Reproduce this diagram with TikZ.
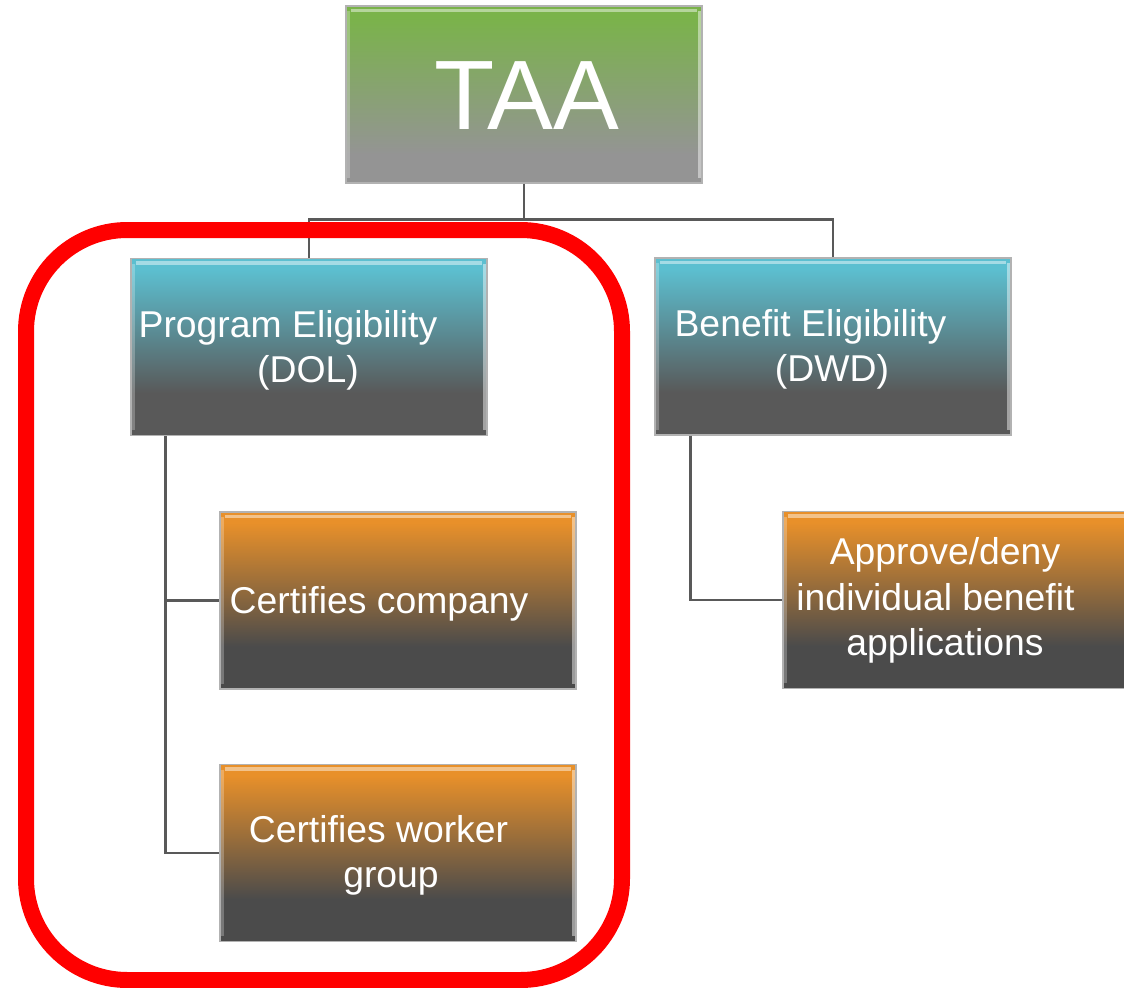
\documentclass[tikz,border=0pt]{standalone}
\usepackage{fontspec}
\setmainfont{Liberation Sans}
\usetikzlibrary{calc}
\definecolor{gtop}{HTML}{7AB34A}
\definecolor{gbot}{HTML}{949494}
\definecolor{btop}{HTML}{5CBFD0}
\definecolor{bbot}{HTML}{595959}
\definecolor{otop}{HTML}{E8902A}
\definecolor{obot}{HTML}{4B4B4B}
\pgfdeclareverticalshading{gsh}{100bp}{color(0bp)=(gbot); color(33bp)=(gbot); color(72bp)=(gtop); color(100bp)=(gtop)}
\pgfdeclareverticalshading{bsh}{100bp}{color(0bp)=(bbot); color(37bp)=(bbot); color(72bp)=(btop); color(100bp)=(btop)}
\pgfdeclareverticalshading{osh}{100bp}{color(0bp)=(obot); color(37bp)=(obot); color(72bp)=(otop); color(100bp)=(otop)}
\begin{document}
\begin{tikzpicture}[x=0.75pt,y=-0.75pt,
  box/.style={rectangle, minimum width=267pt, minimum height=132.75pt, inner sep=0pt, draw=black!30, line width=0.8pt, shade},
  lbl/.style={text=white, font=\fontsize{28}{34}\selectfont, anchor=base, inner sep=0pt},
  conn/.style={draw=black!65, line width=2pt},
  hl/.style={draw=white, opacity=0.45, line width=2.5pt}]
\useasboundingbox (0,0) rectangle (1124,988);
\clip (0,0) rectangle (1124,988);
% boxes
\node[box, shading=gsh] (taa) at (524,94.5) {};
\node[box, shading=bsh] (pe) at (309,347) {};
\node[box, shading=bsh] (be) at (833,346.5) {};
\node[box, shading=osh] (cc) at (398,600.5) {};
\node[box, shading=osh] (cw) at (398,853) {};
\node[box, shading=osh] (ad) at (961,600) {};
% bevel highlights
\foreach \b in {taa,pe,be,cc,cw,ad}{
  \draw[hl] ($(\b.north west)+(6,5)$) -- ($(\b.north east)+(-6,5)$);
  \draw[hl] ($(\b.north east)+(-3,6)$) -- ($(\b.south east)+(-3,-6)$);
  \draw[draw=white, opacity=0.25, line width=2pt] ($(\b.north west)+(3,6)$) -- ($(\b.south west)+(3,-6)$);
}
% connectors
\draw[conn] (taa.south) -- ++(0,36) coordinate (hub) -| (pe.north);
\draw[conn] (hub) -| (be.north);
\draw[conn] ($(pe.south west)+(35,0)$) coordinate (lv) |- (cc.west);
\draw[conn] (lv) |- (cw.west);
\draw[conn] ($(be.south west)+(36,0)$) |- (ad.west);
% labels
\node[lbl, font=\fontsize{74}{80}\selectfont] (taat) at (527,130) {TAA};
\node[lbl] (pe1) at (288,337) {Program Eligibility};
\node[lbl] (pe2) at (308,382) {(DOL)};
\node[lbl] (be1) at (810.5,336) {Benefit Eligibility};
\node[lbl] (be2) at (832,381) {(DWD)};
\node[lbl] (cc1) at (379,613) {Certifies company};
\node[lbl] (cw1) at (378.5,842) {Certifies worker};
\node[lbl] (cw2) at (391,887) {group};
\node[lbl] (ad1) at (945,564) {Approve/deny};
\node[lbl] (ad2) at (935.5,610) {individual benefit};
\node[lbl] (ad3) at (945,655) {applications};
% red frame
\draw[red, line width=12pt, rounded corners=76pt] (26,230) rectangle (622,980);
\end{tikzpicture}
\end{document}
